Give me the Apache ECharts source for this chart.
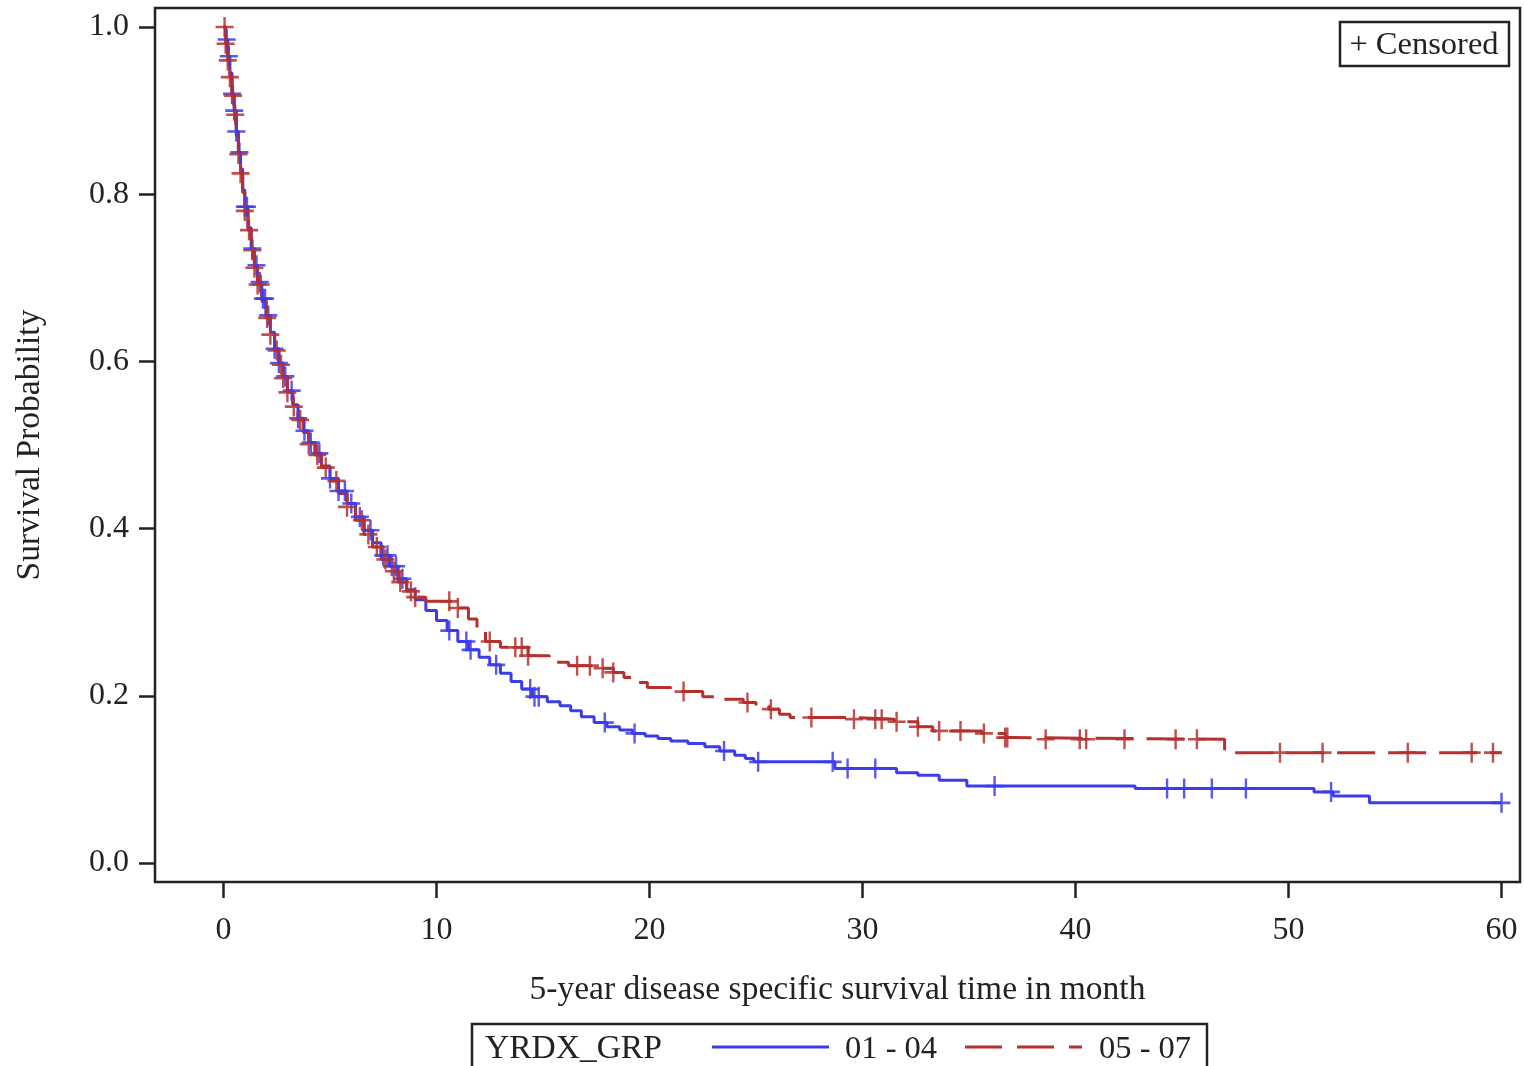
<!DOCTYPE html>
<html>
<head>
<meta charset="utf-8">
<script src="https://cdn.jsdelivr.net/npm/echarts@6/dist/echarts.min.js"></script>
<style>
html,body{margin:0;padding:0;background:#fff;}
#chart{width:1524px;height:1066px;}
</style>
</head>
<body>
<div id="chart"></div>
<script>
// ---- Data ----
const xTicks = [0, 10, 20, 30, 40, 50, 60];
const yTicks = [0.0, 0.2, 0.4, 0.6, 0.8, 1.0];
const groupNames = ['01 - 04', '05 - 07'];

// Group 01 - 04 : Kaplan-Meier step points (time in months, survival after that time)
const blueTimes = [0, 0.1, 0.2, 0.3, 0.4, 0.5, 0.6, 0.7, 0.8, 0.9, 1.0, 1.15, 1.3, 1.45, 1.6, 1.8, 2.0, 2.2, 2.4, 2.6, 2.8, 3.0, 3.25, 3.5, 3.75, 4.0, 4.3, 4.6, 5.0, 5.4, 5.8, 6.2, 6.6, 7.0, 7.4, 7.8, 8.2, 8.6, 9.0, 9.5, 10.0, 10.5, 11.0, 11.5, 12.0, 12.5, 13.0, 13.5, 14.0, 14.5, 15.2, 15.8, 16.3, 16.8, 17.4, 18.0, 18.6, 19.2, 19.8, 20.4, 21.0, 21.8, 22.6, 23.3, 24.0, 24.5, 24.9, 28.7, 31.6, 32.6, 33.6, 34.9, 42.8, 51.2, 52.1, 53.8, 60.0];
const blueSurv  = [1.0, 0.985, 0.965, 0.945, 0.92, 0.90, 0.875, 0.85, 0.83, 0.805, 0.785, 0.76, 0.735, 0.715, 0.695, 0.675, 0.655, 0.635, 0.615, 0.598, 0.582, 0.565, 0.548, 0.532, 0.517, 0.503, 0.49, 0.475, 0.46, 0.445, 0.43, 0.414, 0.398, 0.383, 0.368, 0.355, 0.34, 0.327, 0.315, 0.302, 0.29, 0.278, 0.265, 0.255, 0.246, 0.237, 0.227, 0.217, 0.208, 0.199, 0.193, 0.188, 0.182, 0.175, 0.168, 0.163, 0.159, 0.155, 0.152, 0.149, 0.146, 0.143, 0.139, 0.134, 0.129, 0.125, 0.121, 0.113, 0.108, 0.105, 0.099, 0.092, 0.089, 0.085, 0.080, 0.072, 0.072];
const blueCensor = [0.15, 0.25, 0.4, 0.5, 0.6, 0.75, 1.0, 1.1, 1.35, 1.55, 1.7, 1.85, 1.95, 2.1, 2.4, 2.6, 2.9, 3.2, 3.5, 3.8, 4.1, 4.5, 5.0, 5.4, 5.7, 6.0, 6.4, 6.9, 7.5, 7.7, 7.9, 8.1, 8.4, 10.6, 11.4, 11.6, 12.8, 14.4, 14.6, 14.8, 17.9, 19.3, 23.5, 25.1, 28.6, 29.3, 30.6, 36.2, 44.3, 45.1, 46.4, 48.0, 52.0, 60.0];

// Group 05 - 07
const redTimes = [0, 0.1, 0.2, 0.3, 0.4, 0.5, 0.6, 0.7, 0.8, 0.9, 1.0, 1.15, 1.3, 1.45, 1.6, 1.8, 2.0, 2.2, 2.4, 2.6, 2.8, 3.0, 3.25, 3.5, 3.75, 4.0, 4.3, 4.6, 5.0, 5.4, 5.8, 6.2, 6.6, 7.0, 7.4, 7.8, 8.2, 8.6, 9.0, 9.5, 10.8, 11.5, 11.9, 12.3, 13.0, 14.3, 15.3, 16.2, 17.5, 18.3, 18.8, 19.4, 19.9, 21.0, 22.5, 23.5, 24.4, 25.0, 25.6, 26.1, 26.6, 29.5, 31.5, 32.6, 33.3, 35.6, 36.7, 37.0, 47.0, 60.0];
const redSurv  = [1.0, 0.98, 0.96, 0.94, 0.918, 0.895, 0.87, 0.848, 0.825, 0.802, 0.78, 0.757, 0.733, 0.712, 0.692, 0.672, 0.652, 0.632, 0.613, 0.596, 0.58, 0.563, 0.546, 0.53, 0.515, 0.501, 0.488, 0.473, 0.457, 0.442, 0.426, 0.41, 0.393, 0.378, 0.363, 0.349, 0.336, 0.325, 0.318, 0.313, 0.305, 0.292, 0.28, 0.265, 0.258, 0.248, 0.24, 0.236, 0.233, 0.228, 0.222, 0.216, 0.21, 0.205, 0.199, 0.196, 0.192, 0.188, 0.184, 0.178, 0.174, 0.172, 0.169, 0.163, 0.158, 0.155, 0.15, 0.148, 0.132, 0.132];
const redCensor = [0.05, 0.1, 0.2, 0.3, 0.45, 0.55, 0.7, 0.8, 1.0, 1.2, 1.35, 1.45, 1.6, 1.75, 2.05, 2.2, 2.5, 2.7, 2.8, 3.0, 3.3, 3.6, 4.0, 4.4, 4.8, 5.3, 5.8, 6.5, 6.8, 7.2, 7.6, 8.0, 8.3, 8.8, 9.0, 10.6, 11.0, 12.5, 13.7, 14.0, 14.3, 16.6, 17.2, 17.8, 18.3, 21.6, 24.6, 25.7, 27.6, 29.6, 30.6, 30.9, 31.6, 32.6, 33.6, 34.6, 35.7, 36.7, 36.8, 38.6, 40.2, 40.5, 42.3, 44.7, 45.7, 49.6, 51.6, 55.6, 58.6, 59.6];

// ---- helpers ----
function stepData(times, surv) { return times.map((t, i) => [t, surv[i]]); }
function survAt(times, surv, t) {
  let v = surv[0];
  for (let i = 0; i < times.length; i++) { if (times[i] <= t) v = surv[i]; else break; }
  return v;
}
function censorData(cens, times, surv) { return cens.map(t => [t, survAt(times, surv, t)]); }

const BLUE = '#3c3cec';
const RED = '#b5302e';
const INK = '#222';
const FONT = '"Liberation Serif", "DejaVu Serif", serif';
const PLUS = 'path://M-1.2,-9 L1.2,-9 L1.2,-1.2 L9,-1.2 L9,1.2 L1.2,1.2 L1.2,9 L-1.2,9 L-1.2,1.2 L-9,1.2 L-9,-1.2 L-1.2,-1.2 Z';

// frame geometry (pixels) and where the data values 0/60 and 0/1 fall
const F = {left: 155, top: 8, right: 1520, bottom: 882};
const P = {x0: 223.5, x60: 1501.5, y1: 27, y0: 863};
const pxPerX = (P.x60 - P.x0) / 60;
const pxPerY = (P.y0 - P.y1) / 1;

const chart = echarts.init(document.getElementById('chart'), null, {renderer: 'canvas'});
const option = {
  backgroundColor: '#fff',
  animation: false,
  textStyle: {fontFamily: FONT},
  grid: {left: F.left, top: F.top, width: F.right - F.left, height: F.bottom - F.top,
         show: true, borderColor: INK, borderWidth: 2.5, backgroundColor: 'transparent', containLabel: false},
  xAxis: {
    type: 'value',
    min: -(P.x0 - F.left) / pxPerX, max: 60 + (F.right - P.x60) / pxPerX,
    axisLine: {show: false, onZero: false}, splitLine: {show: false},
    axisTick: {show: true, length: 16, lineStyle: {color: INK, width: 2.5}, customValues: xTicks},
    axisLabel: {show: true, margin: 33, fontFamily: FONT, fontSize: 32, color: INK, customValues: xTicks},
    name: '5-year disease specific survival time in month', nameLocation: 'middle', nameGap: 91,
    nameTextStyle: {fontFamily: FONT, fontSize: 33.5, color: INK}
  },
  yAxis: {
    type: 'value',
    min: -(F.bottom - P.y0) / pxPerY, max: 1 + (P.y1 - F.top) / pxPerY,
    axisLine: {show: false, onZero: false}, splitLine: {show: false},
    axisTick: {show: true, length: 16, lineStyle: {color: INK, width: 2.5}, customValues: yTicks},
    axisLabel: {show: true, margin: 26, fontFamily: FONT, fontSize: 32, color: INK,
                customValues: yTicks, formatter: v => v.toFixed(1)},
    name: 'Survival Probability', nameLocation: 'middle', nameGap: 108,
    nameTextStyle: {fontFamily: FONT, fontSize: 33.5, color: INK}
  },
  series: [
    {name: groupNames[0], type: 'line', step: 'end', symbol: 'none',
     data: stepData(blueTimes, blueSurv),
     lineStyle: {color: BLUE, width: 3}, z: 3},
    {name: groupNames[1], type: 'line', step: 'end', symbol: 'none',
     data: stepData(redTimes, redSurv),
     lineStyle: {color: RED, width: 3, type: [38, 13]}, z: 4},
    {name: groupNames[0] + ' censored', type: 'scatter',
     data: censorData(blueCensor, blueTimes, blueSurv), symbol: PLUS, symbolSize: [18, 20],
     itemStyle: {color: BLUE, opacity: 0.85}, z: 5},
    {name: groupNames[1] + ' censored', type: 'scatter',
     data: censorData(redCensor, redTimes, redSurv), symbol: PLUS, symbolSize: [18, 20],
     itemStyle: {color: RED, opacity: 0.85}, z: 6}
  ],
  graphic: [
    // "+ Censored" inset box
    {type: 'rect', shape: {x: 1340, y: 22, width: 169, height: 44},
     style: {fill: '#fff', stroke: INK, lineWidth: 2.5}, z: 10},
    {type: 'text', x: 1424, y: 45, z: 11,
     style: {text: '+ Censored', fontFamily: FONT, fontSize: 32.5, fill: INK, align: 'center', verticalAlign: 'middle'}},
    // bottom group legend
    {type: 'rect', shape: {x: 472, y: 1024, width: 735, height: 70},
     style: {fill: '#fff', stroke: INK, lineWidth: 2.5}, z: 10},
    {type: 'text', x: 485, y: 1049, z: 11,
     style: {text: 'YRDX_GRP', fontFamily: FONT, fontSize: 33.5, fill: INK, align: 'left', verticalAlign: 'middle'}},
    {type: 'line', shape: {x1: 712, y1: 1047, x2: 829, y2: 1047}, z: 11,
     style: {stroke: BLUE, lineWidth: 3}},
    {type: 'text', x: 845, y: 1049, z: 11,
     style: {text: groupNames[0], fontFamily: FONT, fontSize: 32.5, fill: INK, align: 'left', verticalAlign: 'middle'}},
    {type: 'line', shape: {x1: 965, y1: 1047, x2: 1082, y2: 1047}, z: 11,
     style: {stroke: RED, lineWidth: 3, lineDash: [37, 15]}},
    {type: 'text', x: 1099, y: 1049, z: 11,
     style: {text: groupNames[1], fontFamily: FONT, fontSize: 32.5, fill: INK, align: 'left', verticalAlign: 'middle'}}
  ]
};
chart.setOption(option);
</script>
</body>
</html>
